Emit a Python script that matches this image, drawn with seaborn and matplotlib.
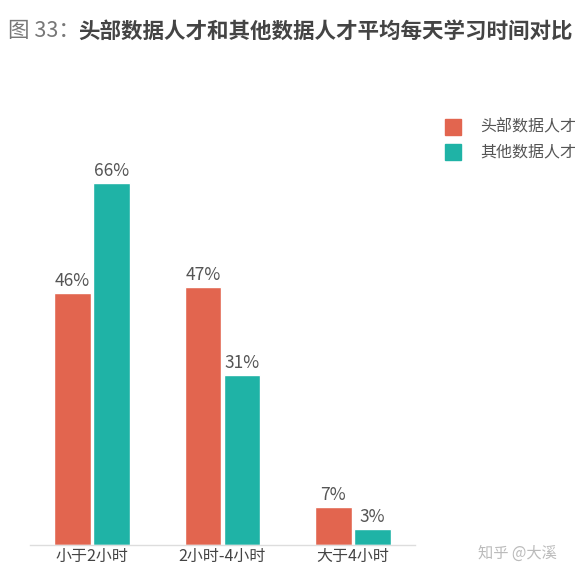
import pandas as pd
import matplotlib.pyplot as plt
import seaborn as sns

# ==================== data ====================
categories = ['小于2小时', '2小时-4小时', '大于4小时']
series_names = ['头部数据人才', '其他数据人才']
top_values = [46, 47, 7]
other_values = [66, 31, 3]

df = pd.DataFrame({
    'category': categories * 2,
    'group': [series_names[0]] * 3 + [series_names[1]] * 3,
    'value': top_values + other_values,
})

palette = {series_names[0]: '#E2654F', series_names[1]: '#1FB3A6'}

sns.set_style('white')
plt.rcParams['font.family'] = ['Noto Sans CJK SC', 'DejaVu Sans']

fig = plt.figure(figsize=(5.85, 5.81), dpi=100)
ax = fig.add_axes([30 / 585, 36 / 581, 385 / 585, 384 / 581])

sns.barplot(data=df, x='category', y='value', hue='group', order=categories,
            hue_order=series_names, palette=palette, width=0.6, gap=0.06,
            saturation=1, ax=ax, legend=False)

# value labels
for container in ax.containers:
    ax.bar_label(container, labels=[f'{int(v)}%' for v in container.datavalues],
                 padding=2, fontsize=12.5, color='#555555')

ax.set_xlim(-0.475, 2.475)
ax.set_ylim(0, 70)
ax.set_xlabel('')
ax.set_ylabel('')
ax.set_yticks([])
ax.tick_params(axis='x', length=0, labelsize=11.5, labelcolor='#444444', pad=2)
for side in ['top', 'right', 'left']:
    ax.spines[side].set_visible(False)
ax.spines['bottom'].set_color('#dddddd')
ax.spines['bottom'].set_linewidth(1)

# legend
for i, name in enumerate(series_names):
    y = 1 - (127 + i * 25) / 581
    fig.patches.append(plt.Rectangle((445 / 585, y - 8 / 581), 16 / 585, 16 / 581,
                                     transform=fig.transFigure, color=palette[name]))
    fig.text(480 / 585, y, name, fontsize=11.5, color='#555555', va='center')

# title
fig.text(8 / 585, 1 - 31 / 581, '图 33：', fontsize=15.5, color='#777777', va='center')
fig.text(78 / 585, 1 - 31 / 581, '头部数据人才和其他数据人才平均每天学习时间对比',
         fontsize=15.5, color='#444444', fontweight='bold', va='center')

# watermark
fig.text(478 / 585, 1 - 553 / 581, '知乎 @大溪', fontsize=11, color='#bbbbbb', va='center')

fig.savefig('out.png', dpi=100)
